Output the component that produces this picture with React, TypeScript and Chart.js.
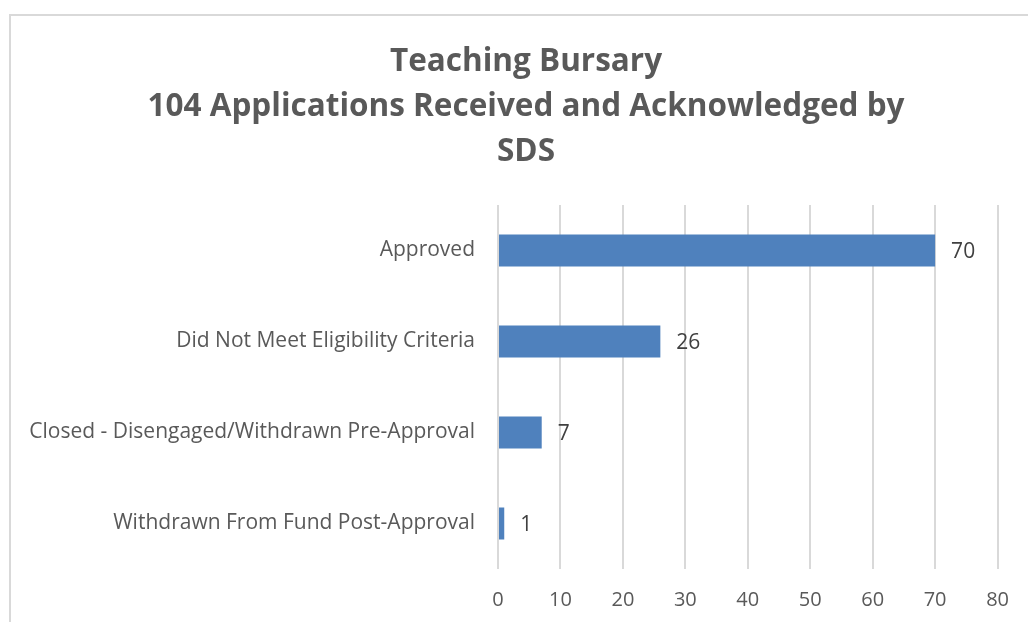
import React, { useEffect, useRef } from "react";
import { Chart, registerables } from "chart.js";

Chart.register(...registerables);

const categories = [
  "Approved",
  "Did Not Meet Eligibility Criteria",
  "Closed - Disengaged/Withdrawn Pre-Approval",
  "Withdrawn From Fund Post-Approval",
];
const values = [70, 26, 7, 1];
const titleLines = [
  "Teaching Bursary",
  "104 Applications Received and Acknowledged by",
  "SDS",
];
const xTicks = { min: 0, max: 80, step: 10 };

const TEXT = "#595959";
const FONT = "'Open Sans', 'Noto Sans', sans-serif";

export default function App() {
  const ref = useRef<HTMLCanvasElement | null>(null);

  useEffect(() => {
    if (!ref.current) return;
    const titlePlugin = {
      id: "customTitle",
      afterDraw(chart: any) {
        const ctx = chart.ctx;
        ctx.save();
        ctx.fillStyle = TEXT;
        ctx.font = `bold 31.5px ${FONT}`;
        ctx.textAlign = "center";
        ctx.textBaseline = "middle";
        titleLines.forEach((t, i) => ctx.fillText(t, 526, 62 + i * 45));
        ctx.restore();
      },
    };
    const labelPlugin = {
      id: "valueLabels",
      afterDatasetsDraw(chart: any) {
        const ctx = chart.ctx;
        const meta = chart.getDatasetMeta(0);
        ctx.save();
        ctx.fillStyle = "#404040";
        ctx.font = `21px ${FONT}`;
        ctx.textAlign = "left";
        ctx.textBaseline = "middle";
        meta.data.forEach((bar: any, i: number) => {
          ctx.fillText(String(values[i]), bar.x + 16, bar.y + 2);
        });
        ctx.restore();
      },
    };
    const chart = new Chart(ref.current, {
      type: "bar",
      data: {
        labels: categories,
        datasets: [
          {
            data: values,
            backgroundColor: "#4F81BD",
            borderColor: "#4F81BD",
            borderWidth: 0,
            categoryPercentage: 1,
            barPercentage: 0.35,
          },
        ],
      },
      options: {
        indexAxis: "y",
        animation: false,
        responsive: false,
        maintainAspectRatio: false,
        layout: { padding: { top: 205, right: 30, left: 0, bottom: 0 } },
        plugins: {
          legend: { display: false },
          title: { display: false },
          tooltip: { enabled: false },
        },
        scales: {
          x: {
            min: xTicks.min,
            max: xTicks.max,
            ticks: {
              stepSize: xTicks.step,
              color: TEXT,
              font: { family: FONT, size: 20 },
              padding: 19,
            },
            grid: { color: "#D9D9D9", lineWidth: 2, drawTicks: false },
            border: { display: false },
            afterFit(scale: any) {
              scale.height = 53;
            },
          },
          y: {
            ticks: {
              color: TEXT,
              font: { family: FONT, size: 21 },
              padding: 23,
            },
            grid: { display: false, drawTicks: false },
            border: { display: false },
            afterFit(scale: any) {
              scale.width = 498;
            },
          },
        },
      },
      plugins: [titlePlugin, labelPlugin],
    });
    return () => chart.destroy();
  }, []);

  return (
    <div style={{ position: "fixed", left: 0, top: 0, width: 1028, height: 622, background: "#fff", overflow: "hidden" }}>
      <div
        style={{
          position: "absolute",
          left: 9,
          top: 14,
          width: 1100,
          height: 700,
          borderLeft: "2px solid #D9D9D9",
          borderTop: "2px solid #D9D9D9",
        }}
      />
      <canvas ref={ref} width={1028} height={622} style={{ position: "absolute", left: 0, top: 0, width: 1028, height: 622 }} />
    </div>
  );
}
